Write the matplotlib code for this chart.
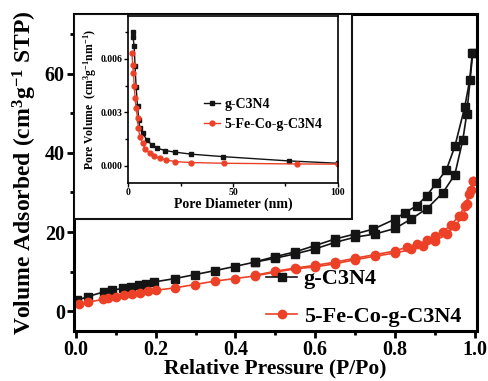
"""
N2 adsorption isotherms with pore size distribution inset
"""

import matplotlib
matplotlib.use('Agg')
import matplotlib.pyplot as plt
from matplotlib.patches import Rectangle
from matplotlib.ticker import MultipleLocator

plt.rcParams['font.family'] = ['Liberation Serif', 'DejaVu Serif']
plt.rcParams['font.weight'] = 'bold'
plt.rcParams['mathtext.fontset'] = 'custom'
plt.rcParams['mathtext.rm'] = 'Liberation Serif:bold'
plt.rcParams['mathtext.bf'] = 'Liberation Serif:bold'
plt.rcParams['mathtext.it'] = 'Liberation Serif:bold'
plt.rcParams['mathtext.default'] = 'bf'

BLACK = '#141414'
RED = '#ec4127'

# isotherm, g-C3N4
gcn_ads_p = [0.004, 0.03, 0.07, 0.09, 0.117, 0.138, 0.158, 0.175, 0.196, 0.248, 0.298, 0.348,
             0.398, 0.448, 0.50, 0.55, 0.60, 0.65, 0.70, 0.75, 0.80, 0.84, 0.88, 0.92, 0.95,
             0.97, 0.98, 0.995]
gcn_ads_v = [2.8, 3.7, 4.9, 5.3, 5.75, 6.2, 6.6, 7.0, 7.4, 8.25, 9.25, 10.25,
             11.3, 12.4, 13.4, 14.5, 15.75, 17.4, 18.7, 19.5, 20.9, 23.25, 25.9, 29.9, 34.5,
             43.25, 49.9, 65.3]
gcn_des_p = [0.994, 0.987, 0.975, 0.95, 0.929, 0.904, 0.879, 0.854, 0.825, 0.80, 0.746,
             0.70, 0.65, 0.60, 0.55, 0.50, 0.45]
gcn_des_v = [65.3, 58.25, 51.6, 41.6, 35.75, 32.4, 29.1, 26.6, 24.9, 23.25, 20.75,
             19.5, 18.25, 16.6, 15.0, 13.8, 12.5]

# isotherm, 5-Fe-Co-g-C3N4
fe_ads_p = [0.008, 0.03, 0.067, 0.08, 0.10, 0.12, 0.142, 0.16, 0.18, 0.20, 0.248, 0.298,
            0.348, 0.398, 0.448, 0.50, 0.553, 0.60, 0.65, 0.70, 0.75, 0.80, 0.84, 0.87,
            0.90, 0.93, 0.95, 0.97, 0.98, 0.99, 0.995]
fe_ads_v = [1.75, 2.25, 3.0, 3.25, 3.7, 4.1, 4.3, 4.6, 5.1, 5.3, 5.9, 6.75,
            7.6, 8.25, 8.9, 9.9, 10.75, 11.2, 12.0, 13.0, 13.9, 14.7, 15.6, 16.5,
            17.7, 19.5, 21.5, 24.0, 27.0, 30.5, 32.8]
fe_des_p = [0.995, 0.985, 0.975, 0.96, 0.94, 0.92, 0.90, 0.88, 0.855, 0.83, 0.80, 0.75,
            0.70, 0.65, 0.60, 0.55, 0.50, 0.45]
fe_des_v = [32.8, 29.5, 26.5, 24.0, 21.8, 20.0, 19.1, 17.9, 16.9, 16.2, 15.2, 14.3,
            13.4, 12.4, 11.6, 10.9, 10.1, 9.1]

# pore size distribution
gcn_d = [2.1, 2.3, 2.9, 3.3, 3.8, 4.5, 5.1, 5.6, 7.0, 8.9, 11.3, 14.0, 17.7, 22.5, 30.0,
         45.3, 76.7, 100.0]
gcn_pv = [0.00753, 0.00725, 0.0067, 0.0056, 0.00445, 0.00333, 0.00258, 0.0021, 0.00183,
          0.00146, 0.00118, 0.00099, 0.00086, 0.00077, 0.00066, 0.00052, 0.00028, 0.00015]
fe_d = [1.8, 2.2, 2.5, 2.9, 3.3, 3.8, 4.5, 4.9, 5.6, 6.9, 8.2, 10.2, 12.4, 15.0, 17.9, 22.5,
        30.0, 45.5, 80.7, 100.0]
fe_pv = [0.00635, 0.00566, 0.0052, 0.00449, 0.0038, 0.00324, 0.00267, 0.0021, 0.00164,
         0.00127, 0.00095, 0.00071, 0.00056, 0.00043, 0.00034, 0.00024, 0.00019, 0.00015,
         0.00011, 0.0001]

fig = plt.figure(figsize=(4.89, 3.81), dpi=100)
ax = fig.add_axes([0.151, 0.131, 0.824, 0.832])

ax.plot(gcn_ads_p, gcn_ads_v, '-s', color=BLACK, lw=1.2, ms=5.5, label='g-C3N4')
ax.plot(gcn_des_p, gcn_des_v, '-s', color=BLACK, lw=1.2, ms=5.5)
ax.plot(fe_ads_p, fe_ads_v, '-o', color=RED, lw=1.2, ms=6, label='5-Fe-Co-g-C3N4')
ax.plot(fe_des_p, fe_des_v, '-o', color=RED, lw=1.2, ms=6)

ax.set_xlim(-0.005, 1.005)
ax.set_ylim(-5, 75)
ax.xaxis.set_major_locator(MultipleLocator(0.2))
ax.xaxis.set_minor_locator(MultipleLocator(0.1))
ax.yaxis.set_major_locator(MultipleLocator(20))
ax.yaxis.set_minor_locator(MultipleLocator(10))
ax.xaxis.set_major_formatter(matplotlib.ticker.FormatStrFormatter('%.1f'))
ax.tick_params(which='major', direction='out', length=5, width=2, labelsize=14.5, pad=1.5)
ax.tick_params(which='minor', direction='out', length=3, width=2)
for s in ax.spines.values():
    s.set_linewidth(2.2)
ax.set_xlabel('Relative Pressure (P/Po)', fontsize=15.5, fontweight='bold', labelpad=-1)
ax.set_ylabel('Volume Adsorbed (cm$^3$g$^{-1}$ STP)', fontsize=17, fontweight='bold',
              labelpad=4)
ax.legend(loc='lower right', bbox_to_anchor=(1.0, -0.035), frameon=False, fontsize=16,
          handlelength=1.4, handletextpad=0.3, labelspacing=0.75, borderpad=0.2)

# white panel behind the inset
ax.add_patch(Rectangle((0, 0.355), 0.69, 0.645, transform=ax.transAxes, facecolor='white',
                       edgecolor=BLACK, lw=1.5, zorder=5))

ins = fig.add_axes([0.262, 0.520, 0.429, 0.438])
ins.set_zorder(6)
ins.plot(gcn_d, gcn_pv, '-s', color=BLACK, lw=1.0, ms=3, label='g-C3N4')
ins.plot(fe_d, fe_pv, '-o', color=RED, lw=1.0, ms=3.5, label='5-Fe-Co-g-C3N4')
ins.set_xlim(0, 100)
ins.set_ylim(-0.00095, 0.0084)
ins.xaxis.set_major_locator(MultipleLocator(50))
ins.xaxis.set_minor_locator(MultipleLocator(25))
ins.yaxis.set_major_locator(MultipleLocator(0.003))
ins.yaxis.set_minor_locator(MultipleLocator(0.0015))
ins.yaxis.set_major_formatter(matplotlib.ticker.FormatStrFormatter('%.3f'))
ins.tick_params(which='major', direction='out', length=3, width=1, labelsize=7, pad=1)
ins.tick_params(which='minor', direction='out', length=2, width=1)
for s in ins.spines.values():
    s.set_linewidth(1.2)
ins.set_xlabel('Pore Diameter (nm)', fontsize=10, fontweight='bold', labelpad=0)
ins.set_ylabel('Pore Volume  (cm$^3$g$^{-1}$nm$^{-1}$)', fontsize=8.5, fontweight='bold',
               labelpad=1)
ins.legend(loc='center left', bbox_to_anchor=(0.3, 0.41), frameon=False, fontsize=10,
           handlelength=1.2, handletextpad=0.3, labelspacing=0.5)

fig.savefig('out.png', dpi=100)
